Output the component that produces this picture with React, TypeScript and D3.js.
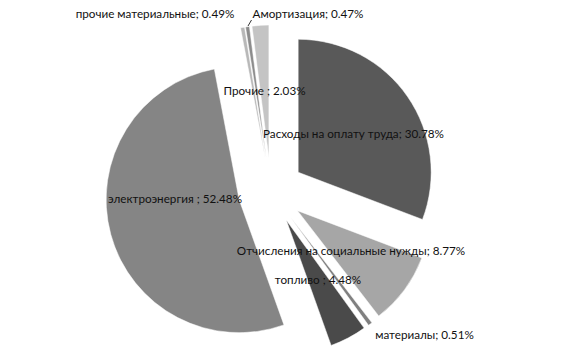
import React from "react";
import * as d3 from "d3";

const categories = [
  "Расходы на оплату труда",
  "Отчисления на социальные нужды",
  "материалы",
  "топливо ",
  "электроэнергия ",
  "прочие материальные",
  "Амортизация",
  "Прочие ",
];
const values = [30.78, 8.77, 0.51, 4.48, 52.48, 0.49, 0.47, 2.03];
const valueLabels = ["30.78%", "8.77%", "0.51%", "4.48%", "52.48%", "0.49%", "0.47%", "2.03%"];

const colors = ["#595959", "#a6a6a6", "#808080", "#4a4a4a", "#858585", "#b8b8b8", "#8c8c8c", "#c4c4c4"];
// label centers (layout)
const labelPos: [number, number][] = [
  [353.5, 133],
  [351, 250],
  [424.5, 334],
  [318, 279],
  [175, 198],
  [155, 13],
  [308, 13],
  [264.5, 90],
];

export default function App() {
  const W = 576, H = 364;
  const cx = 271, cy = 191, r = 133, explode = 33;
  const pie = d3.pie<number>().sort(null).value((d) => d)(values);
  const arc = d3.arc<d3.PieArcDatum<number>>().innerRadius(0).outerRadius(r);
  return (
    <svg width={W} height={H} style={{ position: "absolute", left: 0, top: 0, background: "#fff" }}>
      <g transform={`translate(${cx},${cy})`}>
        {pie.map((p, i) => {
          const mid = (p.startAngle + p.endAngle) / 2;
          const dx = Math.sin(mid) * explode;
          const dy = -Math.cos(mid) * explode;
          return (
            <path
              key={i}
              d={arc(p) || ""}
              transform={`translate(${dx},${dy})`}
              fill={colors[i]}
              stroke="#fff"
              strokeWidth={0.5}
            />
          );
        })}
      </g>
      <line x1={248} y1={26} x2={251.5} y2={20} stroke="#000" strokeWidth={0.8} />
      {categories.map((c, i) => (
        <text
          key={i}
          x={labelPos[i][0]}
          y={labelPos[i][1]}
          textAnchor="middle"
          dominantBaseline="central"
          fontFamily="Lato, sans-serif"
          fontSize={11.7}
          fill="#111"
        >
          {`${c}; ${valueLabels[i]}`}
        </text>
      ))}
    </svg>
  );
}
